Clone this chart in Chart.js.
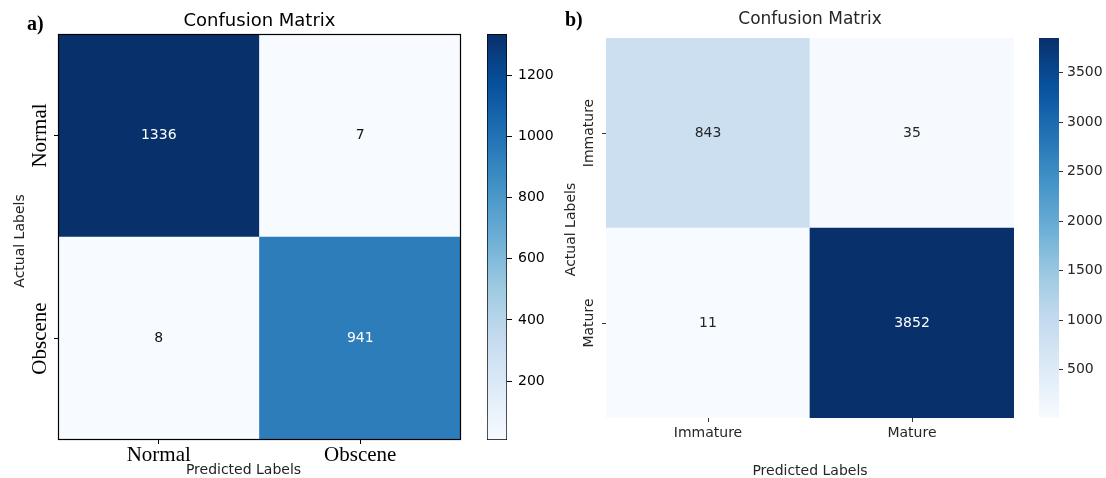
<!DOCTYPE html>
<html>
<head>
<meta charset="utf-8">
<script src="https://cdn.jsdelivr.net/npm/chart.js@4.4.1/dist/chart.umd.min.js"></script>
<style>
    body { margin: 0; background: #fff; width: 1106px; height: 478px; position: relative; overflow: hidden; }
    canvas { position: absolute; top: 0; }
</style>
</head>
<body>
<canvas id="matA" width="470" height="478" style="left:0px"></canvas>
<canvas id="barA" width="90" height="478" style="left:470px"></canvas>
<canvas id="matB" width="470" height="478" style="left:560px"></canvas>
<canvas id="barB" width="86" height="478" style="left:1020px"></canvas>
<script>
//DONNEES

// a) Normal / Obscene
const predictedA = ['Normal', 'Obscene'];
const actualA = ['Normal', 'Obscene'];
const countsA = [[1336, 7], [8, 941]];
const colorbarTicksA = [200, 400, 600, 800, 1000, 1200];

// b) Immature / Mature
const predictedB = ['Immature', 'Mature'];
const actualB = ['Immature', 'Mature'];
const countsB = [[843, 35], [11, 3852]];
const colorbarTicksB = [500, 1000, 1500, 2000, 2500, 3000, 3500];

//COULEURS (palette "Blues")
const blues = ['#f7fbff', '#deebf7', '#c6dbef', '#9ecae1', '#6baed6', '#4292c6', '#2171b5', '#08519c', '#08306b'];

function hexRgb(h) {
    return [1, 3, 5].map(i => parseInt(h.substr(i, 2), 16));
}

function bluesAt(t) {
    t = Math.max(0, Math.min(1, t));
    let p = t * (blues.length - 1);
    let i = Math.min(Math.floor(p), blues.length - 2);
    let f = p - i;
    let a = hexRgb(blues[i]);
    let b = hexRgb(blues[i + 1]);
    let c = a.map((v, k) => Math.round(v + (b[k] - v) * f));
    return 'rgb(' + c.join(',') + ')';
}

function range(counts) {
    let flat = counts.flat();
    return [Math.min(...flat), Math.max(...flat)];
}

function drawText(ctx, t) {
    ctx.save();
    ctx.font = t.font;
    ctx.fillStyle = t.color;
    ctx.textAlign = t.align || 'center';
    ctx.textBaseline = 'alphabetic';
    ctx.translate(t.x, t.y);
    if (t.rotate) ctx.rotate(-Math.PI / 2);
    ctx.fillText(t.text, 0, 0);
    ctx.restore();
}

//MATRICE (barres empilées, une case = une barre)
function makeMatrix(id, m) {
    let [vmin, vmax] = range(m.counts);
    let nRows = m.actual.length;
    let norm = v => (v - vmin) / (vmax - vmin);

    // premier dataset = ligne du bas
    let datasets = [];
    for (let r = nRows - 1; r >= 0; r--) {
        datasets.push({
            label: m.actual[r],
            data: m.predicted.map(() => 1),
            backgroundColor: m.counts[r].map(v => bluesAt(norm(v))),
            borderWidth: 0,
            barPercentage: 1,
            categoryPercentage: 1
        });
    }

    let textPlugin = {
        id: 'matrixText',
        afterDatasetsDraw(chart) {
            let ctx = chart.ctx;
            ctx.save();
            ctx.font = m.cellFont;
            ctx.textAlign = 'center';
            ctx.textBaseline = 'middle';
            chart.data.datasets.forEach((ds, di) => {
                let r = nRows - 1 - di;
                chart.getDatasetMeta(di).data.forEach((bar, j) => {
                    let v = m.counts[r][j];
                    let p = bar.getProps(['x', 'y', 'base'], true);
                    ctx.fillStyle = norm(v) > 0.5 ? m.lightText : m.darkText;
                    ctx.fillText(String(v), p.x, (p.y + p.base) / 2);
                });
            });
            ctx.restore();
        },
        afterDraw(chart) {
            let ctx = chart.ctx;
            let a = chart.chartArea;
            if (m.frame) {
                ctx.save();
                ctx.strokeStyle = '#000';
                ctx.lineWidth = 1.2;
                ctx.strokeRect(a.left + 0.5, a.top + 0.5, a.width - 1, a.height - 1);
                ctx.restore();
            }
            // labels de l'axe y, tournés
            let ys = chart.scales.y;
            ys.ticks.forEach(t => {
                let r = Math.round(nRows - 0.5 - t.value);
                drawText(ctx, {
                    text: m.actual[r], x: m.yLabelX, y: ys.getPixelForValue(t.value),
                    font: m.yTickFont, color: m.textColor, rotate: true
                });
            });
            m.texts.forEach(t => drawText(ctx, t));
        }
    };

    return new Chart(document.getElementById(id), {
        type: 'bar',
        data: { labels: m.predicted, datasets: datasets },
        options: {
            responsive: false,
            animation: false,
            events: [],
            layout: { padding: m.padding },
            plugins: { legend: { display: false }, tooltip: { enabled: false } },
            scales: {
                x: {
                    stacked: true,
                    afterFit: s => { s.height = m.xAxisHeight; },
                    ticks: { font: m.xTickFont, color: m.textColor, padding: m.xTickPad, maxRotation: 0, autoSkip: false },
                    grid: { offset: false, drawOnChartArea: false, tickLength: 4, color: m.tickColor },
                    border: { display: false }
                },
                y: {
                    stacked: true,
                    min: 0,
                    max: nRows,
                    afterBuildTicks: s => { s.ticks = m.actual.map((n, r) => ({ value: nRows - r - 0.5 })); },
                    afterFit: s => { s.width = m.yAxisWidth; },
                    ticks: { display: false },
                    grid: { drawOnChartArea: false, tickLength: 4, color: m.tickColor },
                    border: { display: false }
                }
            }
        },
        plugins: [textPlugin]
    });
}

//BARRE DE COULEUR
function makeColorbar(id, c) {
    let [vmin, vmax] = range(c.counts);
    return new Chart(document.getElementById(id), {
        type: 'bar',
        data: {
            labels: [''],
            datasets: [{
                data: [[vmin, vmax]],
                backgroundColor: function (ctx) {
                    let chart = ctx.chart;
                    let ys = chart.scales.y;
                    if (!ys || !chart.chartArea) return blues[4];
                    let g = chart.ctx.createLinearGradient(0, ys.getPixelForValue(vmin), 0, ys.getPixelForValue(vmax));
                    for (let i = 0; i <= 32; i++) g.addColorStop(i / 32, bluesAt(i / 32));
                    return g;
                },
                borderWidth: c.border ? 1 : 0,
                borderColor: '#000',
                borderSkipped: false,
                barPercentage: 1,
                categoryPercentage: 1
            }]
        },
        options: {
            responsive: false,
            animation: false,
            events: [],
            layout: { padding: c.padding },
            plugins: { legend: { display: false }, tooltip: { enabled: false } },
            scales: {
                x: { display: false },
                y: {
                    position: 'right',
                    min: vmin,
                    max: vmax,
                    afterBuildTicks: s => { s.ticks = c.ticks.map(v => ({ value: v })); },
                    afterFit: s => { s.width = c.axisWidth; },
                    ticks: { font: { family: 'DejaVu Sans', size: 14 }, color: c.textColor, padding: c.tickPad, callback: v => String(v) },
                    grid: { drawOnChartArea: false, tickLength: c.tickLength, color: c.tickColor },
                    border: { display: false }
                }
            }
        }
    });
}

//GRAPHIQUE a)
makeMatrix('matA', {
    predicted: predictedA, actual: actualA, counts: countsA,
    padding: { left: 0, top: 34, right: 9, bottom: 0 },
    yAxisWidth: 58, xAxisHeight: 38,
    frame: true,
    textColor: '#000', tickColor: '#000',
    lightText: '#ffffff', darkText: '#111',
    cellFont: '14px "DejaVu Sans"',
    xTickFont: { family: 'Liberation Serif', size: 21, lineHeight: 1 }, xTickPad: 1,
    yTickFont: '21px "Liberation Serif"', yLabelX: 46,
    texts: [
        { text: 'a)', x: 27, y: 30, align: 'left', font: 'bold 20px "Liberation Serif"', color: '#000' },
        { text: 'Confusion Matrix', x: 259.5, y: 26, font: '18px "DejaVu Sans"', color: '#000' },
        { text: 'Actual Labels', x: 23.5, y: 241, rotate: true, font: '14px "DejaVu Sans"', color: '#222' },
        { text: 'Predicted Labels', x: 243.5, y: 474, font: '14px "DejaVu Sans"', color: '#222' }
    ]
});

makeColorbar('barA', {
    counts: countsA, ticks: colorbarTicksA,
    padding: { left: 17, top: 34, right: 0, bottom: 38 },
    axisWidth: 53, tickLength: 5, tickPad: 6,
    border: true, textColor: '#000', tickColor: '#000'
});

//GRAPHIQUE b)
makeMatrix('matB', {
    predicted: predictedB, actual: actualB, counts: countsB,
    padding: { left: 0, top: 38, right: 16, bottom: 0 },
    yAxisWidth: 46, xAxisHeight: 60,
    frame: false,
    textColor: '#262626', tickColor: '#333',
    lightText: '#ffffff', darkText: '#262626',
    cellFont: '14px "DejaVu Sans"',
    xTickFont: { family: 'DejaVu Sans', size: 14 }, xTickPad: 3,
    yTickFont: '14px "DejaVu Sans"', yLabelX: 33,
    texts: [
        { text: 'b)', x: 5, y: 26, align: 'left', font: 'bold 20px "Liberation Serif"', color: '#000' },
        { text: 'Confusion Matrix', x: 250, y: 24, font: '17px "DejaVu Sans"', color: '#262626' },
        { text: 'Actual Labels', x: 15, y: 229.5, rotate: true, font: '14px "DejaVu Sans"', color: '#262626' },
        { text: 'Predicted Labels', x: 250, y: 475, font: '14px "DejaVu Sans"', color: '#262626' }
    ]
});

makeColorbar('barB', {
    counts: countsB, ticks: colorbarTicksB,
    padding: { left: 19, top: 38, right: 0, bottom: 60 },
    axisWidth: 47, tickLength: 4, tickPad: 4,
    border: false, textColor: '#262626', tickColor: '#333'
});
</script>
</body>
</html>
